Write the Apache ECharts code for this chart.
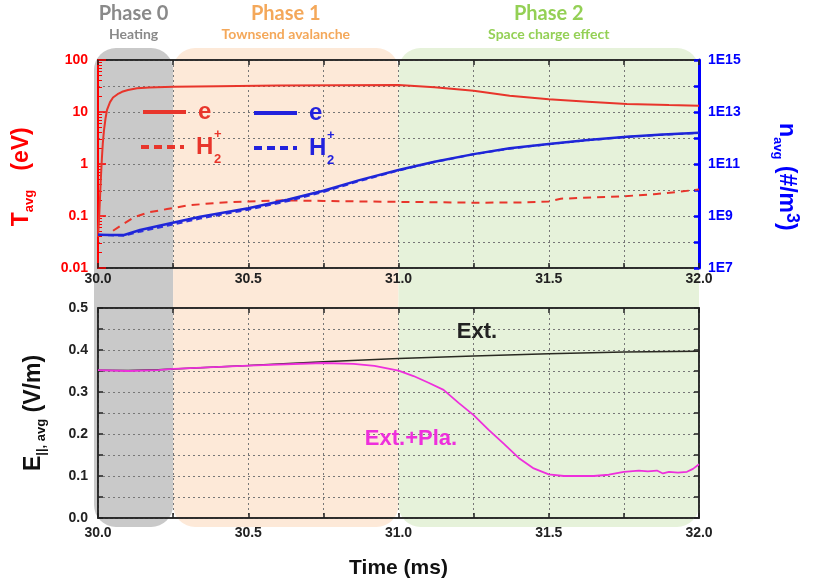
<!DOCTYPE html>
<html>
<head>
<meta charset="utf-8">
<script src="https://cdn.jsdelivr.net/npm/echarts@6/dist/echarts.min.js"></script>
<style>
  html, body { margin: 0; padding: 0; background: #fff; }
  #chart { width: 817px; height: 584px; }
</style>
</head>
<body>
<div id="chart"></div>
<script>
// top panel: average temperature (eV) on the left, average density (#/m^3) on the right
const tempElecTime = [30.0, 30.004, 30.007, 30.01, 30.013, 30.016, 30.02, 30.025, 30.03, 30.04, 30.05, 30.065, 30.08, 30.1, 30.13, 30.17, 30.25, 30.4, 30.6, 30.8, 31.0, 31.12, 31.25, 31.37, 31.5, 31.63, 31.76, 31.9, 32.0]
const tempElec = [0.04, 0.1, 0.25, 0.6, 1.3, 2.5, 4.5, 7.5, 11, 15.5, 19, 22, 24.5, 26.5, 28.5, 29.6, 30.5, 31.2, 32.2, 32.8, 33, 30, 25.7, 20.5, 17.5, 15.8, 14.3, 13.6, 13.2]

const tempIonTime = [30.05, 30.08, 30.12, 30.17, 30.23, 30.3, 30.4, 30.5, 30.62, 30.75, 30.9, 31.0, 31.13, 31.25, 31.4, 31.5, 31.54, 31.65, 31.75, 31.85, 31.93, 32.0]
const tempIon = [0.052, 0.068, 0.095, 0.118, 0.136, 0.16, 0.18, 0.19, 0.2, 0.195, 0.19, 0.187, 0.184, 0.18, 0.182, 0.19, 0.215, 0.228, 0.24, 0.262, 0.29, 0.325]

const densTime = [30.0, 30.04, 30.087, 30.14, 30.23, 30.34, 30.5, 30.63, 30.75, 30.87, 31.0, 31.12, 31.25, 31.37, 31.5, 31.63, 31.76, 31.88, 32.0]
const densElec = [1.9e8, 1.85e8, 1.86e8, 2.9e8, 4.9e8, 9.3e8, 2.0e9, 4.2e9, 9.3e9, 2.4e10, 5.9e10, 1.23e11, 2.4e11, 4.0e11, 5.9e11, 8.3e11, 1.12e12, 1.35e12, 1.6e12]
const densIon = [1.9e8, 1.8e8, 1.75e8, 2.5e8, 4.2e8, 8.0e8, 1.75e9, 3.7e9, 8.4e9, 2.2e10, 5.6e10, 1.2e11, 2.35e11, 3.9e11, 5.8e11, 8.2e11, 1.1e12, 1.33e12, 1.57e12]

// bottom panel: average parallel field (V/m)
const fieldExtTime = [30.0, 30.1, 30.2, 30.25, 30.5, 30.75, 31.0, 31.25, 31.5, 31.75, 32.0]
const fieldExt = [0.352, 0.351, 0.353, 0.355, 0.363, 0.372, 0.380, 0.386, 0.391, 0.395, 0.397]

const fieldTotTime = [30.0, 30.1, 30.2, 30.25, 30.5, 30.75, 30.85, 30.92, 31.0, 31.05, 31.1, 31.15, 31.2, 31.25, 31.3, 31.35, 31.4, 31.45, 31.5, 31.55, 31.65, 31.7, 31.75, 31.8, 31.83, 31.86, 31.88, 31.9, 31.93, 31.96, 31.98, 32.0]
const fieldTot = [0.352, 0.350, 0.352, 0.355, 0.363, 0.369, 0.367, 0.362, 0.351, 0.338, 0.322, 0.305, 0.274, 0.245, 0.21, 0.177, 0.143, 0.118, 0.104, 0.100, 0.100, 0.103, 0.110, 0.113, 0.111, 0.113, 0.106, 0.110, 0.108, 0.110, 0.117, 0.128]

// phases
const phaseBounds = [30.0, 30.25, 31.0, 32.0]
const phaseNames = ['Phase 0', 'Phase 1', 'Phase 2']
const phaseSubs = ['Heating', 'Townsend avalanche', 'Space charge effect']
const phaseFill = ['#c9c9c9', '#fde9d8', '#e6f2da']
const phaseText = ['#8a8a8a', '#f4a85a', '#94d055']

const zip = (xs, ys) => xs.map((x, i) => [x, ys[i]])

const RED = '#ff0000'
const BLUE = '#0000ff'
const font = 'Liberation Sans'
const gridLine = { show: true, lineStyle: { type: [2, 3], color: '#777', width: 1 } }

const timeLabel = v => Math.round(v * 100) % 50 === 0 ? v.toFixed(1) : ''

function timeAxis(gridIndex, position, labelMargin) {
  return {
    type: 'value', gridIndex, position, min: 30, max: 32, interval: 0.25,
    axisLine: { show: true, onZero: false, lineStyle: { color: '#222', width: 1.5 } },
    axisTick: { show: true, inside: true, length: 5, lineStyle: { color: '#222', width: 1.5 } },
    axisLabel: {
      show: labelMargin != null, margin: labelMargin || 0, formatter: timeLabel,
      color: '#222', fontFamily: font, fontWeight: 'bold', fontSize: 14
    },
    splitLine: position === 'bottom' ? gridLine : { show: false }
  }
}

const chart = echarts.init(document.getElementById('chart'))

chart.setOption({
  animation: false,
  backgroundColor: '#fff',
  grid: [
    { left: 98, top: 60, width: 601, height: 208, show: true, borderColor: '#222', borderWidth: 1.5, backgroundColor: 'transparent' },
    { left: 98, top: 308, width: 601, height: 210, show: true, borderColor: '#222', borderWidth: 1.5, backgroundColor: 'transparent' }
  ],
  xAxis: [
    timeAxis(0, 'bottom', 4),
    timeAxis(0, 'top', null),
    Object.assign(timeAxis(1, 'bottom', 8), {
      name: 'Time (ms)', nameLocation: 'middle', nameGap: 40,
      nameTextStyle: { color: '#111', fontFamily: font, fontWeight: 'bold', fontSize: 21 }
    }),
    timeAxis(1, 'top', null)
  ],
  yAxis: [
    {
      type: 'log', logBase: 10, gridIndex: 0, min: 0.01, max: 100, position: 'left',
      name: '{m|T}{s|avg}{m|   (eV)    }', nameLocation: 'middle', nameGap: 62,
      nameTextStyle: {
        rich: {
          m: { color: RED, fontFamily: font, fontWeight: 'bold', fontSize: 23, lineHeight: 28 },
          s: { color: RED, fontFamily: font, fontWeight: 'bold', fontSize: 13, lineHeight: 13, verticalAlign: 'bottom' }
        }
      },
      axisLine: { show: true, onZero: false, lineStyle: { color: RED, width: 2 } },
      axisTick: { show: true, inside: true, length: 8, lineStyle: { color: RED, width: 1.5 } },
      minorTick: { show: true, splitNumber: 9, length: 4, lineStyle: { color: RED, width: 1 } },
      axisLabel: {
        margin: 10, color: RED, fontFamily: font, fontWeight: 'bold', fontSize: 14,
        showMinLabel: true, showMaxLabel: true,
        formatter: v => v >= 1 ? String(Math.round(v)) : String(+v.toFixed(2))
      },
      splitLine: { show: false }
    },
    {
      type: 'log', logBase: 10, gridIndex: 0, min: 1e7, max: 1e15, position: 'right',
      name: '{m|    n}{s|avg}{m| (#/m}{p|3}{m|)}', nameLocation: 'middle', nameGap: 72, nameRotate: -90,
      nameTextStyle: {
        rich: {
          m: { color: BLUE, fontFamily: font, fontWeight: 'bold', fontSize: 23, lineHeight: 30 },
          s: { color: BLUE, fontFamily: font, fontWeight: 'bold', fontSize: 13, lineHeight: 13, verticalAlign: 'bottom' },
          p: { color: BLUE, fontFamily: font, fontWeight: 'bold', fontSize: 18, lineHeight: 18, verticalAlign: 'top' }
        }
      },
      axisLine: { show: true, onZero: false, lineStyle: { color: BLUE, width: 3 } },
      axisTick: { show: true, inside: true, length: 5, lineStyle: { color: BLUE, width: 2.5 } },
      axisLabel: {
        margin: 9, color: BLUE, fontFamily: font, fontWeight: 'bold', fontSize: 14,
        showMinLabel: true, showMaxLabel: true,
        formatter: v => {
          const e = Math.round(Math.log10(v))
          return e % 2 ? '1E' + e : ''
        }
      },
      splitLine: gridLine
    },
    {
      type: 'value', gridIndex: 1, min: 0, max: 0.5, interval: 0.05, position: 'left',
      name: '{m|E}{s|||, avg}{m| (V/m)}', nameLocation: 'middle', nameGap: 50,
      nameTextStyle: {
        rich: {
          m: { color: '#111', fontFamily: font, fontWeight: 'bold', fontSize: 23, lineHeight: 28 },
          s: { color: '#111', fontFamily: font, fontWeight: 'bold', fontSize: 13, lineHeight: 13, verticalAlign: 'bottom' }
        }
      },
      axisLine: { show: true, onZero: false, lineStyle: { color: '#222', width: 1.5 } },
      axisTick: { show: true, inside: true, length: 5, lineStyle: { color: '#222', width: 1.5 } },
      axisLabel: {
        margin: 10, color: '#222', fontFamily: font, fontWeight: 'bold', fontSize: 14,
        formatter: v => Math.round(v * 100) % 10 === 0 ? v.toFixed(1) : ''
      },
      splitLine: gridLine
    },
    {
      type: 'value', gridIndex: 1, min: 0, max: 0.5, interval: 0.05, position: 'right',
      axisLine: { show: true, onZero: false, lineStyle: { color: '#222', width: 1.5 } },
      axisTick: { show: true, inside: true, length: 5, lineStyle: { color: '#222', width: 1.5 } },
      axisLabel: { show: false },
      splitLine: { show: false }
    }
  ],
  series: [
    {
      name: 'T e', type: 'line', xAxisIndex: 0, yAxisIndex: 0, showSymbol: false,
      data: zip(tempElecTime, tempElec), lineStyle: { color: '#e8352b', width: 2 }, itemStyle: { color: '#e8352b' }
    },
    {
      name: 'T H2+', type: 'line', xAxisIndex: 0, yAxisIndex: 0, showSymbol: false,
      data: zip(tempIonTime, tempIon), lineStyle: { color: '#e8352b', width: 2, type: [8, 6] }, itemStyle: { color: '#e8352b' }
    },
    {
      name: 'n H2+', type: 'line', xAxisIndex: 0, yAxisIndex: 1, showSymbol: false,
      data: zip(densTime, densIon), lineStyle: { color: '#3030e0', width: 2, type: [6, 4] }, itemStyle: { color: '#3030e0' }
    },
    {
      name: 'n e', type: 'line', xAxisIndex: 0, yAxisIndex: 1, showSymbol: false,
      data: zip(densTime, densElec), lineStyle: { color: '#1f26d8', width: 2.5 }, itemStyle: { color: '#1f26d8' }
    },
    {
      name: 'Ext.', type: 'line', xAxisIndex: 2, yAxisIndex: 2, showSymbol: false,
      data: zip(fieldExtTime, fieldExt), lineStyle: { color: '#2a2a22', width: 1.5 }, itemStyle: { color: '#2a2a22' }
    },
    {
      name: 'Ext.+Pla.', type: 'line', xAxisIndex: 2, yAxisIndex: 2, showSymbol: false,
      data: zip(fieldTotTime, fieldTot), lineStyle: { color: '#ee2fdc', width: 1.8 }, itemStyle: { color: '#ee2fdc' }
    }
  ]
})

// phase backgrounds, titles, legend and labels
const px = v => chart.convertToPixel({ xAxisIndex: 0 }, v)
const graphic = []
for (let i = 0; i < 3; i++) {
  const x0 = px(phaseBounds[i]) - (i === 0 ? 4 : 0)
  const x1 = px(phaseBounds[i + 1])
  graphic.push({
    type: 'rect', z: -10, silent: true,
    shape: { x: x0, y: 48, width: x1 - x0, height: 479, r: 22 },
    style: { fill: phaseFill[i] }
  })
  const cx = (x0 + x1) / 2
  graphic.push({
    type: 'text', z: 5, x: cx, y: 14,
    style: { text: phaseNames[i], fill: phaseText[i], font: 'bold 20px Lato', align: 'center', verticalAlign: 'middle' }
  })
  graphic.push({
    type: 'text', z: 5, x: cx, y: 34,
    style: { text: phaseSubs[i], fill: phaseText[i], font: 'bold 14px Lato', align: 'center', verticalAlign: 'middle' }
  })
}

const legendItems = [
  { x: 143, y: 112, color: '#e8352b', dash: null, width: 4, label: 'e' },
  { x: 141, y: 147, color: '#e8352b', dash: [8, 5], width: 4, label: 'H' },
  { x: 254, y: 113, color: '#2222dd', dash: null, width: 4, label: 'e' },
  { x: 254, y: 148, color: '#2222dd', dash: [8, 5], width: 4, label: 'H' }
]
legendItems.forEach(it => {
  graphic.push({
    type: 'line', z: 5,
    shape: { x1: it.x, y1: it.y, x2: it.x + 43, y2: it.y },
    style: { stroke: it.color, lineWidth: it.width, lineDash: it.dash }
  })
  const tx = it.x + 55
  graphic.push({
    type: 'text', z: 5, x: tx, y: it.y,
    style: { text: it.label, fill: it.color, font: 'bold 24px "Liberation Sans"', verticalAlign: 'middle' }
  })
  if (it.label === 'H') {
    graphic.push({
      type: 'text', z: 5, x: tx + 18, y: it.y + 12,
      style: { text: '2', fill: it.color, font: 'bold 13px "Liberation Sans"', verticalAlign: 'middle' }
    })
    graphic.push({
      type: 'text', z: 5, x: tx + 18, y: it.y - 13,
      style: { text: '+', fill: it.color, font: 'bold 13px "Liberation Sans"', verticalAlign: 'middle' }
    })
  }
})

graphic.push({
  type: 'text', z: 5, x: 477, y: 332,
  style: { text: 'Ext.', fill: '#222', font: 'bold 22px "Liberation Sans"', align: 'center', verticalAlign: 'middle' }
})
graphic.push({
  type: 'text', z: 5, x: 411, y: 439,
  style: { text: 'Ext.+Pla.', fill: '#ee2fdc', font: 'bold 22px "Liberation Sans"', align: 'center', verticalAlign: 'middle' }
})

chart.setOption({ graphic })
</script>
</body>
</html>
